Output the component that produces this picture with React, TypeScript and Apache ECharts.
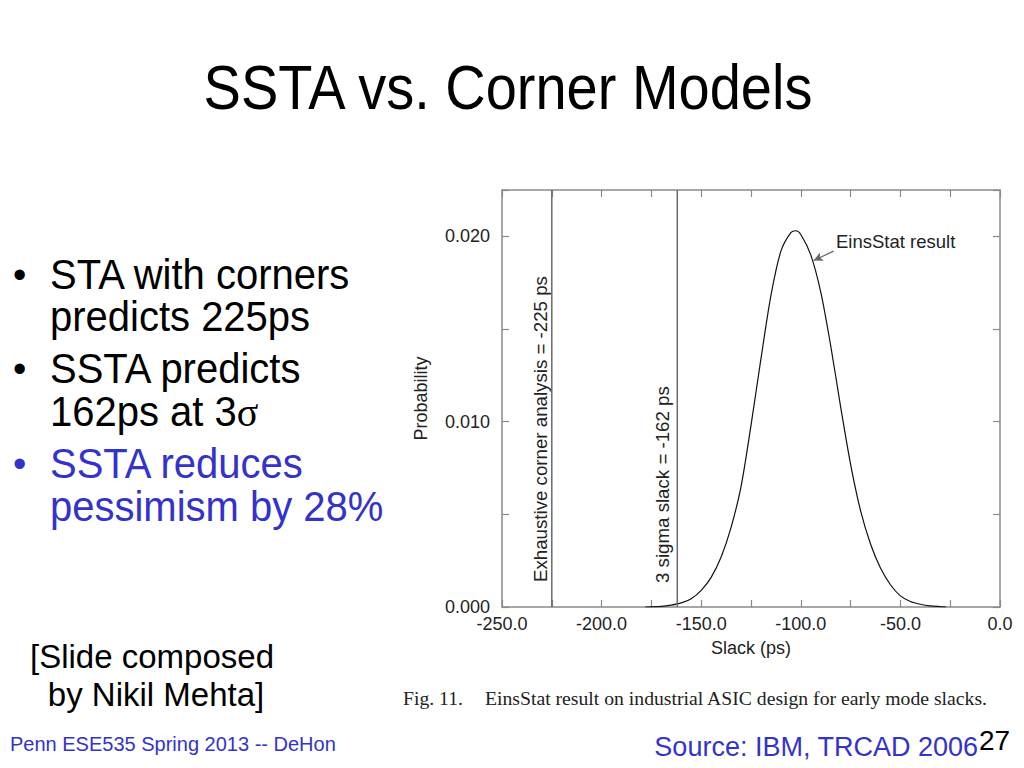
import React, { useEffect, useRef } from "react";
import * as echarts from "echarts";

// ---- data ----
const slackPs = [
  -178, -170, -165, -160, -155, -150, -145, -140, -135, -130, -125, -120, -115, -110, -105, -102.5,
  -100, -95, -90, -85, -80, -75, -70, -65, -60, -55, -50, -45, -40, -35, -30, -27,
];
const probability = [
  0, 0.00003, 0.0001, 0.00022, 0.00045, 0.0009, 0.0016, 0.0027, 0.0043, 0.0065, 0.0098, 0.0134, 0.0168,
  0.0192, 0.0202, 0.0203, 0.0201, 0.019, 0.017, 0.0141, 0.0108, 0.0077, 0.0052, 0.0034, 0.0021, 0.0012,
  0.0006, 0.0003, 0.00015, 0.00006, 0.00002, 0,
];
const cornerSlackPs = -225;
const sigmaSlackPs = -162;
const arrowFrom = [-83.5, 0.0192];
const arrowTo = [-93.5, 0.0187];

const xMin = -250;
const xMax = 0;
const yMin = 0;
const yMax = 0.0225;

const titleText = "SSTA vs. Corner Models";
const bullets = [
  { lines: ["STA with corners", "predicts 225ps"], color: "#000000" },
  { lines: ["SSTA predicts", "162ps at 3{s|σ}"], color: "#000000" },
  { lines: ["SSTA reduces", "pessimism by 28%"], color: "#3333CC" },
];
const creditLines = ["[Slide composed", "by Nikil Mehta]"];
const footerLeft = "Penn ESE535 Spring 2013 -- DeHon";
const footerSource = "Source: IBM, TRCAD 2006";
const pageNumber = "27";
const captionFig = "Fig. 11.";
const captionText = "EinsStat result on industrial ASIC design for early mode slacks.";
const cornerLabel = "Exhaustive corner analysis = -225 ps";
const sigmaLabel = "3 sigma slack = -162 ps";
const curveLabel = "EinsStat result";

const SANS = "'Liberation Sans', Arial, Helvetica, sans-serif";
const SERIF = "'Liberation Serif', 'Times New Roman', serif";
const FRAME = "#8a8a8a";
const INK = "#222222";

export default function App() {
  const ref = useRef<HTMLDivElement>(null);

  useEffect(() => {
    if (!ref.current) return;
    const chart = echarts.init(ref.current, null, { renderer: "svg" });

    const curve = slackPs.map((x, i) => [x, probability[i]]);

    const graphic: any[] = [];
    graphic.push({
      type: "text",
      x: 508,
      y: 87,
      scaleY: 1.12,
      style: { text: titleText, font: `56px ${SANS}`, fill: "#000", align: "center", verticalAlign: "middle" },
    });
    const bulletY = [275, 317, 369, 412, 464, 507];
    let k = 0;
    bullets.forEach((b) => {
      b.lines.forEach((ln, j) => {
        const y = bulletY[k++];
        if (j === 0) {
          graphic.push({
            type: "text",
            x: 13,
            y,
            style: { text: "•", font: `38px ${SANS}`, fill: b.color, align: "left", verticalAlign: "middle" },
          });
        }
        graphic.push({
          type: "text",
          x: 50,
          y,
          scaleY: 1.04,
          style: {
            text: ln,
            font: `40px ${SANS}`,
            fill: b.color,
            align: "left",
            verticalAlign: "middle",
            rich: { s: { font: `40px ${SERIF}`, fill: b.color } },
          },
        });
      });
    });
    creditLines.forEach((ln, i) => {
      graphic.push({
        type: "text",
        x: 152 + (i === 1 ? 4 : 0),
        y: 656 + i * 38,
        style: { text: ln, font: `33px ${SANS}`, fill: "#000", align: "center", verticalAlign: "middle" },
      });
    });
    graphic.push({
      type: "text",
      x: 10,
      y: 744,
      style: { text: footerLeft, font: `20px ${SANS}`, fill: "#3333CC", align: "left", verticalAlign: "middle" },
    });
    graphic.push({
      type: "text",
      x: 978,
      y: 747,
      style: { text: footerSource, font: `27px ${SANS}`, fill: "#3333CC", align: "right", verticalAlign: "middle" },
    });
    graphic.push({
      type: "text",
      x: 979,
      y: 740,
      style: { text: pageNumber, font: `28px ${SANS}`, fill: "#000", align: "left", verticalAlign: "middle" },
    });
    graphic.push({
      type: "text",
      x: 403,
      y: 698,
      style: { text: captionFig, font: `19.7px ${SERIF}`, fill: INK, align: "left", verticalAlign: "middle" },
    });
    graphic.push({
      type: "text",
      x: 485,
      y: 698,
      style: { text: captionText, font: `19.7px ${SERIF}`, fill: INK, align: "left", verticalAlign: "middle" },
    });
    graphic.push({
      type: "text",
      x: 540,
      y: 582,
      rotation: Math.PI / 2,
      style: { text: cornerLabel, font: `18.7px ${SANS}`, fill: INK, align: "left", verticalAlign: "middle" },
    });
    graphic.push({
      type: "text",
      x: 662,
      y: 583,
      rotation: Math.PI / 2,
      style: { text: sigmaLabel, font: `18.7px ${SANS}`, fill: INK, align: "left", verticalAlign: "middle" },
    });
    graphic.push({
      type: "text",
      x: 836,
      y: 241,
      style: { text: curveLabel, font: `18.5px ${SANS}`, fill: INK, align: "left", verticalAlign: "middle" },
    });

    const axisCommon = {
      axisLine: { show: true, onZero: false, lineStyle: { color: FRAME, width: 1.5 } },
      axisTick: { show: true, inside: true, length: 7, lineStyle: { color: FRAME, width: 1.2 } },
      splitLine: { show: false },
    };

    chart.setOption({
      animation: false,
      backgroundColor: "#ffffff",
      grid: { left: 502, top: 190, width: 498, height: 417, outerBoundsMode: "none" },
      xAxis: [
        {
          type: "value",
          min: xMin,
          max: xMax,
          interval: 25,
          position: "bottom",
          ...axisCommon,
          axisLabel: {
            show: true,
            margin: 8,
            fontSize: 18,
            fontFamily: SANS,
            color: INK,
            showMinLabel: true,
            showMaxLabel: true,
            formatter: (v: number) => (Math.abs(v % 50) < 1e-9 ? v.toFixed(1) : ""),
          },
          name: "Slack (ps)",
          nameLocation: "middle",
          nameGap: 32,
          nameTextStyle: { fontSize: 18, fontFamily: SANS, color: INK },
        },
        {
          type: "value",
          min: xMin,
          max: xMax,
          interval: 25,
          position: "top",
          ...axisCommon,
          axisLabel: { show: false },
        },
      ],
      yAxis: [
        {
          type: "value",
          min: yMin,
          max: yMax,
          interval: 0.005,
          position: "left",
          ...axisCommon,
          axisLabel: {
            show: true,
            margin: 12,
            fontSize: 18,
            fontFamily: SANS,
            color: INK,
            formatter: (v: number) => {
              const r = Math.round(v * 100);
              return Math.abs(v * 100 - r) < 1e-6 ? v.toFixed(3) : "";
            },
          },
          name: "Probability",
          nameLocation: "middle",
          nameGap: 72,
          nameTextStyle: { fontSize: 18, fontFamily: SANS, color: INK },
        },
        {
          type: "value",
          min: yMin,
          max: yMax,
          interval: 0.005,
          position: "right",
          ...axisCommon,
          axisLabel: { show: false },
        },
      ],
      series: [
        {
          name: "EinsStat result",
          type: "line",
          data: curve,
          showSymbol: false,
          symbol: "none",
          smooth: 0.3,
          lineStyle: { color: "#111111", width: 1.2 },
          markLine: {
            silent: true,
            symbol: ["none", "arrow"],
            symbolSize: [7, 9],
            label: { show: false },
            lineStyle: { color: "#666666", width: 1.2, type: "solid" },
            data: [[{ coord: arrowFrom }, { coord: arrowTo }]],
          },
        },
        {
          name: "corner",
          type: "line",
          data: [
            [cornerSlackPs, yMin],
            [cornerSlackPs, yMax],
          ],
          showSymbol: false,
          symbol: "none",
          lineStyle: { color: "#6a6a6a", width: 1.5 },
        },
        {
          name: "sigma",
          type: "line",
          data: [
            [sigmaSlackPs, yMin],
            [sigmaSlackPs, yMax],
          ],
          showSymbol: false,
          symbol: "none",
          lineStyle: { color: "#6a6a6a", width: 1.5 },
        },
      ],
      graphic,
    });

    return () => chart.dispose();
  }, []);

  return (
    <div
      ref={ref}
      style={{ position: "absolute", left: 0, top: 0, width: 1024, height: 768, background: "#fff" }}
    />
  );
}
